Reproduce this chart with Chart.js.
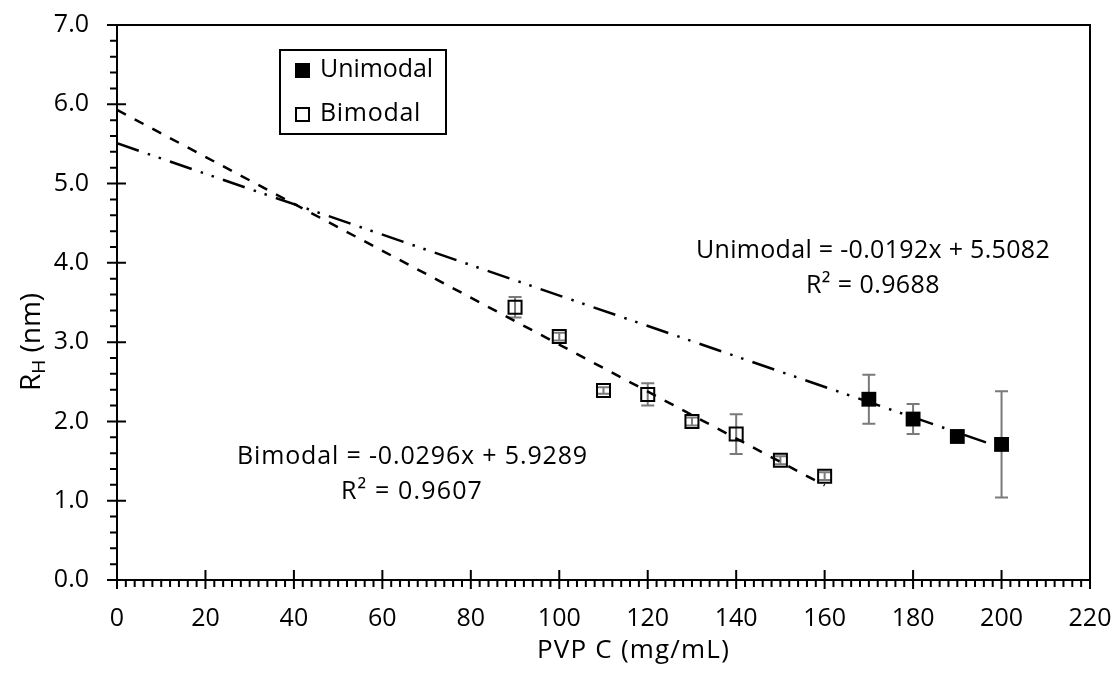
<!DOCTYPE html>
<html>
<head>
<meta charset="utf-8">
<script src="https://cdn.jsdelivr.net/npm/chart.js@4.4.1/dist/chart.umd.min.js"></script>
<style>
  html, body { margin: 0; padding: 0; background: #fff; }
  #wrap { width: 1115px; height: 677px; }
</style>
</head>
<body>
<div id="wrap"><canvas id="chart" width="1115" height="677"></canvas></div>
<script>
// PVP concentration (mg/mL) vs hydrodynamic radius (nm)
const xBimodal = [90, 100, 110, 120, 130, 140, 150, 160];
const yBimodal = [3.44, 3.07, 2.39, 2.34, 2.00, 1.84, 1.51, 1.31];
const errBimodal = [0.13, 0.05, 0.04, 0.14, 0.05, 0.25, 0.05, 0.05];

const xUnimodal = [170, 180, 190, 200];
const yUnimodal = [2.28, 2.03, 1.81, 1.71];
const errUnimodal = [0.31, 0.19, 0.03, 0.67];

// linear fits: [slope, intercept], fitted x range
const fitBimodal = [-0.0296, 5.9289];
const fitBimodalRange = [0, 160];
const fitUnimodal = [-0.0192, 5.5082];
const fitUnimodalRange = [0, 200];

const eqBimodal = ['Bimodal = -0.0296x + 5.9289', 'R\u00b2 = 0.9607'];
const eqUnimodal = ['Unimodal = -0.0192x + 5.5082', 'R\u00b2 = 0.9688'];

const FONT = '"Open Sans", Lato, sans-serif';

function pts(xs, ys) {
    return xs.map(function(x, i) { return { x: x, y: ys[i] }; });
}
function fitLine(fit, range) {
    return range.map(function(x) { return { x: x, y: fit[0] * x + fit[1] }; });
}

// draw text with letter spacing adjusted to a given overall width
function spacedText(ctx, text, x, y, width) {
    ctx.letterSpacing = '0px';
    const w = ctx.measureText(text).width;
    const sp = Math.max(-1, (width - w) / text.length);
    ctx.letterSpacing = sp + 'px';
    ctx.fillText(text, x, y);
    ctx.letterSpacing = '0px';
}

// error bars, drawn under the markers
const errorBars = {
    id: 'errorBars',
    beforeDatasetsDraw(chart) {
        const ctx = chart.ctx, xs = chart.scales.x, ys = chart.scales.y;
        const sets = [[xBimodal, yBimodal, errBimodal], [xUnimodal, yUnimodal, errUnimodal]];
        ctx.save();
        ctx.strokeStyle = '#7a7a7a';
        ctx.lineWidth = 2;
        sets.forEach(function(s) {
            s[0].forEach(function(x, i) {
                const px = xs.getPixelForValue(x);
                const top = ys.getPixelForValue(s[1][i] + s[2][i]);
                const bot = ys.getPixelForValue(s[1][i] - s[2][i]);
                ctx.beginPath();
                ctx.moveTo(px, top); ctx.lineTo(px, bot);
                ctx.moveTo(px - 6.5, top); ctx.lineTo(px + 6.5, top);
                ctx.moveTo(px - 6.5, bot); ctx.lineTo(px + 6.5, bot);
                ctx.stroke();
            });
        });
        ctx.restore();
    }
};

// frame, major/minor ticks, axis titles, legend and fit equations
const decorations = {
    id: 'decorations',
    afterDraw(chart) {
        const ctx = chart.ctx, a = chart.chartArea;
        const xs = chart.scales.x, ys = chart.scales.y;
        ctx.save();
        ctx.strokeStyle = '#000';
        ctx.lineWidth = 2;
        ctx.strokeRect(a.left, a.top, a.right - a.left, a.bottom - a.top);

        ctx.beginPath();
        for (let v = 0; v <= 220; v += 2) {
            const px = xs.getPixelForValue(v);
            if (v % 20 === 0) { ctx.moveTo(px, a.bottom - 10); ctx.lineTo(px, a.bottom + 9); }
            else { ctx.moveTo(px, a.bottom); ctx.lineTo(px, a.bottom + 7); }
        }
        for (let k = 0; k <= 35; k++) {
            const py = ys.getPixelForValue(k * 0.2);
            if (k % 5 === 0) { ctx.moveTo(a.left - 10, py); ctx.lineTo(a.left + 9, py); }
            else { ctx.moveTo(a.left - 7, py); ctx.lineTo(a.left, py); }
        }
        ctx.stroke();

        ctx.fillStyle = '#000';
        ctx.textBaseline = 'alphabetic';
        ctx.textAlign = 'left';

        // x title
        ctx.font = '26px ' + FONT;
        spacedText(ctx, 'PVP C (mg/mL)', 537, 658, 193);

        // y title with subscript
        ctx.save();
        ctx.translate(40, 342);
        ctx.rotate(-Math.PI / 2);
        const big = '28px ' + FONT, small = '19px ' + FONT;
        ctx.font = big; const wR = ctx.measureText('R').width;
        ctx.font = small; const wH = ctx.measureText('H').width;
        ctx.font = big; const wRest = ctx.measureText(' (nm)').width;
        let x0 = -(wR + wH + wRest) / 2;
        ctx.font = big; ctx.fillText('R', x0, 0);
        ctx.font = small; ctx.fillText('H', x0 + wR, 5);
        ctx.font = big; ctx.fillText(' (nm)', x0 + wR + wH, 0);
        ctx.restore();

        // legend
        ctx.lineWidth = 2;
        ctx.strokeRect(280, 50, 166, 84);
        ctx.fillRect(295, 63, 15, 15);
        ctx.strokeRect(296, 108, 13, 13);
        ctx.font = '25px ' + FONT;
        spacedText(ctx, 'Unimodal', 320, 77, 113);
        spacedText(ctx, 'Bimodal', 320, 121, 101);

        // fit equations
        ctx.font = '25px ' + FONT;
        spacedText(ctx, eqUnimodal[0], 696, 258, 354);
        spacedText(ctx, eqUnimodal[1], 806, 293, 134);
        spacedText(ctx, eqBimodal[0], 237, 464, 351);
        spacedText(ctx, eqBimodal[1], 341, 499, 142);
        ctx.restore();
    }
};

new Chart(document.getElementById('chart'), {
    type: 'scatter',
    data: {
        datasets: [
            {
                label: 'Bimodal fit',
                type: 'line',
                data: fitLine(fitBimodal, fitBimodalRange),
                borderColor: '#000',
                borderWidth: 2.5,
                borderDash: [10, 10],
                pointRadius: 0,
                fill: false
            },
            {
                label: 'Unimodal fit',
                type: 'line',
                data: fitLine(fitUnimodal, fitUnimodalRange),
                borderColor: '#000',
                borderWidth: 2.5,
                borderDash: [23, 9.5, 2.5, 9, 2.5, 9.5],
                pointRadius: 0,
                fill: false
            },
            {
                label: 'Bimodal',
                data: pts(xBimodal, yBimodal),
                pointStyle: 'rect',
                pointRadius: 9.2,
                pointBorderWidth: 2,
                pointBorderColor: '#000',
                pointBackgroundColor: 'rgba(0,0,0,0)'
            },
            {
                label: 'Unimodal',
                data: pts(xUnimodal, yUnimodal),
                pointStyle: 'rect',
                pointRadius: 10.5,
                pointBorderWidth: 0,
                pointBackgroundColor: '#000'
            }
        ]
    },
    options: {
        responsive: false,
        animation: false,
        layout: { padding: { left: 0, right: 25, top: 25, bottom: 0 } },
        plugins: { legend: { display: false }, tooltip: { enabled: false } },
        scales: {
            x: {
                type: 'linear',
                min: 0, max: 220,
                grid: { display: false, drawTicks: false },
                border: { display: false },
                ticks: { stepSize: 20, padding: 24, color: '#000', font: { family: FONT, size: 25 } },
                afterFit: function(scale) {
                    scale.height = 97;
                    scale.paddingLeft = 0; scale.paddingRight = 0;
                }
            },
            y: {
                min: 0, max: 7,
                grid: { display: false, drawTicks: false },
                border: { display: false },
                ticks: {
                    stepSize: 1, padding: 28, color: '#000', font: { family: FONT, size: 25 },
                    callback: function(v) { return v.toFixed(1); }
                },
                afterFit: function(scale) {
                    scale.width = 117;
                    scale.paddingTop = 0; scale.paddingBottom = 0;
                }
            }
        }
    },
    plugins: [errorBars, decorations]
});
</script>
</body>
</html>
